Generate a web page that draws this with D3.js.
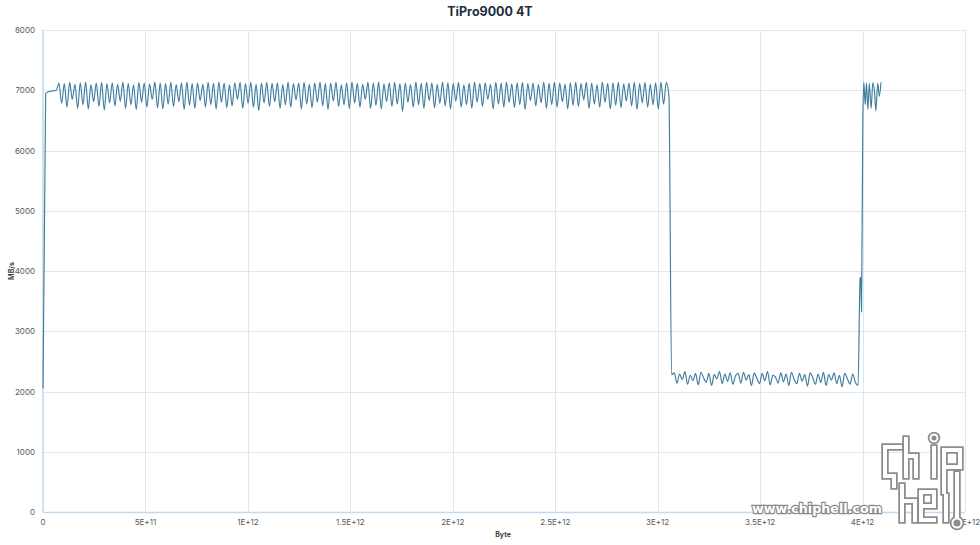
<!DOCTYPE html>
<html>
<head>
<meta charset="utf-8">
<script src="https://cdn.jsdelivr.net/npm/d3@7"></script>
<style>
  html, body { margin: 0; padding: 0; background: #fff; }
  svg { display: block; font-family: Inter, "Open Sans", "DejaVu Sans", sans-serif; }
</style>
</head>
<body>
<svg id="chart" width="980" height="545"></svg>
<script>
// ---------- DATA ----------
const chartTitle = "TiPro9000 4T";
const xAxisTitle = "Byte";
const yAxisTitle = "MB/s";
const watermarkText = "www.chiphell.com";

const yTicks = [0, 1000, 2000, 3000, 4000, 5000, 6000, 7000, 8000];
const xTicks = [0, 5e11, 1e12, 1.5e12, 2e12, 2.5e12, 3e12, 3.5e12, 4e12, 4.5e12];
const xTickLabels = ["0", "5E+11", "1E+12", "1.5E+12", "2E+12", "2.5E+12", "3E+12", "3.5E+12", "4E+12", "4.5E+12"];

// main log: one reading every 13 GB, starting at byte 0 (MB/s)
const sampleStepGB = 13;
const speedMBs = [
  2050, 6950, 6975, 6985, 6990, 7000,
  7120,6780,7110,6720,7130,6850,7100,6700,7125,6760,7135,6690,7090,6810,7120,6730,7130,6670,7110,6790,
  7125,6740,7100,6820,7135,6700,7115,6760,7090,6680,7130,6800,7120,6720,7105,6850,7135,6710,7120,6690,
  7110,6770,7130,6730,7095,6810,7125,6680,7135,6750,7110,6700,7120,6830,7100,6720,7130,6760,7115,6690,
  7135,6800,7120,6710,7090,6740,7125,6850,7130,6700,7110,6780,7135,6720,7100,6660,7120,6790,7130,6730,
  7115,6810,7125,6700,7095,6760,7135,6720,7110,6840,7120,6690,7130,6770,7100,6710,7125,6800,7135,6740,
  7110,6680,7120,6820,7130,6730,7090,6760,7125,6700,7135,6790,7115,6720,7100,6850,7130,6700,7120,6750,
  7135,6690,7105,6810,7125,6730,7130,6770,7110,6650,7120,6800,7095,6720,7135,6760,7115,6700,7130,6830,
  7120,6710,7100,6780,7135,6740,7125,6690,7110,6820,7130,6720,7090,6760,7120,6700,7135,6800,7115,6730,
  7125,6850,7100,6690,7130,6770,7120,6720,7135,6800,7105,6710,7125,6760,7130,6680,7110,6830,7120,6740,
  7095,6790,7135,6700,7115,6760,7130,6720,7120,6810,7100,6690,7125,6750,7135,6730,7110,6840,7130,6700,
  7120,6770,7090,6720,7135,6800,7115,6690,7125,6750,7130,6710,7105,6820,7120,6740,7135,6680,7110,6790,
  7130,6720,7100,6760,7125,6690,7135,6770,7130,6900,
  2280,2310,2140,2290,2200,2330,2120,2270,2180,2300,2110,2320,2230,2150,2300,2100,2280,2210,2330,2130,
  2290,2170,2310,2120,2260,2300,2140,2320,2190,2280,2100,2310,2220,2130,2300,2180,2330,2110,2270,2240,
  2140,2310,2160,2290,2100,2320,2200,2130,2300,2170,2280,2090,2310,2230,2120,2290,2150,2320,2100,2280,
  2190,2310,2130,2270,2080,2300,2210,2120,2290,2150,2100
];

// recovery at the end of the log: positions in GB and speeds in MB/s
const tailGB  = [3988, 3991, 3995, 4001, 4006, 4013, 4019, 4026, 4033, 4042, 4050, 4058, 4065, 4074, 4082, 4090];
const tailMBs = [3880, 3900, 3320, 6400, 7130, 6760, 7120, 6680, 7110, 6700, 7125, 6990, 6660, 7120, 6900, 7130];

// ---------- CHART ----------
const points = speedMBs.map((v, i) => ({ x: i * sampleStepGB * 1e9, y: v }))
  .concat(tailGB.map((g, i) => ({ x: g * 1e9, y: tailMBs[i] })));

const svg = d3.select("#chart");
const plotLeft = 43, plotRight = 965, plotTop = 30, plotBottom = 512;

const x = d3.scaleLinear().domain([0, 4.5e12]).range([plotLeft, plotRight]);
const y = d3.scaleLinear().domain([0, 8000]).range([plotBottom, plotTop]);

const gridColor = "#dde8f3";
const axisColor = "#c6daee";

// horizontal grid
svg.append("g").selectAll("line").data(yTicks.filter(d => d > 0)).join("line")
  .attr("x1", plotLeft).attr("x2", plotRight)
  .attr("y1", d => Math.round(y(d)) + 0.5).attr("y2", d => Math.round(y(d)) + 0.5)
  .attr("stroke", gridColor).attr("stroke-width", 1);

// vertical grid
svg.append("g").selectAll("line").data(xTicks.filter(d => d > 0)).join("line")
  .attr("x1", d => Math.round(x(d)) + 0.5).attr("x2", d => Math.round(x(d)) + 0.5)
  .attr("y1", plotTop).attr("y2", plotBottom)
  .attr("stroke", gridColor).attr("stroke-width", 1);

// axis lines
svg.append("line").attr("x1", plotLeft).attr("x2", plotLeft).attr("y1", plotTop).attr("y2", plotBottom)
  .attr("stroke", axisColor).attr("stroke-width", 1.6);
svg.append("line").attr("x1", plotLeft).attr("x2", plotRight).attr("y1", plotBottom + 0.5).attr("y2", plotBottom + 0.5)
  .attr("stroke", axisColor).attr("stroke-width", 1.6);

// y tick labels
svg.append("g").selectAll("text").data(yTicks).join("text")
  .attr("x", 35).attr("y", d => y(d) + 3)
  .attr("text-anchor", "end")
  .attr("font-size", 8).attr("fill", "#595959")
  .text(d => d);

// x tick labels
svg.append("g").selectAll("text").data(xTicks).join("text")
  .attr("x", d => x(d)).attr("y", 525)
  .attr("text-anchor", "middle")
  .attr("font-size", 8).attr("fill", "#595959")
  .text((d, i) => xTickLabels[i]);

// line
const line = d3.line().x(d => x(d.x)).y(d => y(d.y)).curve(d3.curveMonotoneX);
svg.append("path").datum(points)
  .attr("d", line)
  .attr("fill", "none")
  .attr("stroke", "#3f7d9d")
  .attr("stroke-width", 1.15)
  .attr("stroke-linejoin", "round");

// titles
svg.append("text").attr("x", 490).attr("y", 16)
  .attr("text-anchor", "middle").attr("font-size", 12.5).attr("font-weight", 700)
  .attr("fill", "#1f2d3d").text(chartTitle);

svg.append("text").attr("x", 503).attr("y", 537)
  .attr("text-anchor", "middle").attr("font-size", 7).attr("font-weight", 700)
  .attr("fill", "#404040").text(xAxisTitle);

svg.append("text").attr("transform", "translate(14,271) rotate(-90)")
  .attr("text-anchor", "middle").attr("font-size", 7).attr("font-weight", 700)
  .attr("fill", "#404040").text(yAxisTitle);

// watermark: site address
svg.append("text").attr("x", 752).attr("y", 513)
  .attr("font-family", "'DejaVu Sans', sans-serif").attr("font-weight", 700)
  .attr("font-size", 13).attr("textLength", 130).attr("lengthAdjust", "spacingAndGlyphs")
  .attr("fill", "#ffffff").attr("stroke", "#8a8a8a").attr("stroke-width", 2.4)
  .attr("paint-order", "stroke")
  .text(watermarkText);

// watermark: line-drawn logo glyphs
const logoStrokes = [
  "M900,447 L885,447 L885,476 L894,476 L894,486",            // c with foot
  "M906,439 L906,476 M906,456 L916,456 L916,476",           // h
  "M934,448 L934,476",                                      // i stem
  "M944,492 L944,450 L960,450 L960,467 L944,467",           // p
  "M902,486 L902,520 M902,501 L915,501 L915,520",           // h
  "M934,520 L921,520 L921,492 L934,492 L934,506 L921,506",  // e
  "M946,496 L946,520",                                      // l
  "M957,474 L957,518"                                       // l
];
const logo = svg.append("g");
[["#8c8c8c", 7.5], ["#ffffff", 4]].forEach(([c, w]) => {
  logo.append("g").selectAll("path").data(logoStrokes).join("path")
    .attr("d", d => d).attr("fill", "none").attr("stroke", c).attr("stroke-width", w)
    .attr("stroke-linejoin", "miter").attr("stroke-linecap", "square");
  logo.append("circle").attr("cx", 934).attr("cy", 438).attr("r", 3.5)
    .attr("fill", c === "#ffffff" ? "#8c8c8c" : "none").attr("stroke", c).attr("stroke-width", w - 2);
  logo.append("circle").attr("cx", 957).attr("cy", 523).attr("r", 4.5)
    .attr("fill", c === "#ffffff" ? "#8c8c8c" : "none").attr("stroke", c).attr("stroke-width", w - 2);
});
</script>
</body>
</html>
